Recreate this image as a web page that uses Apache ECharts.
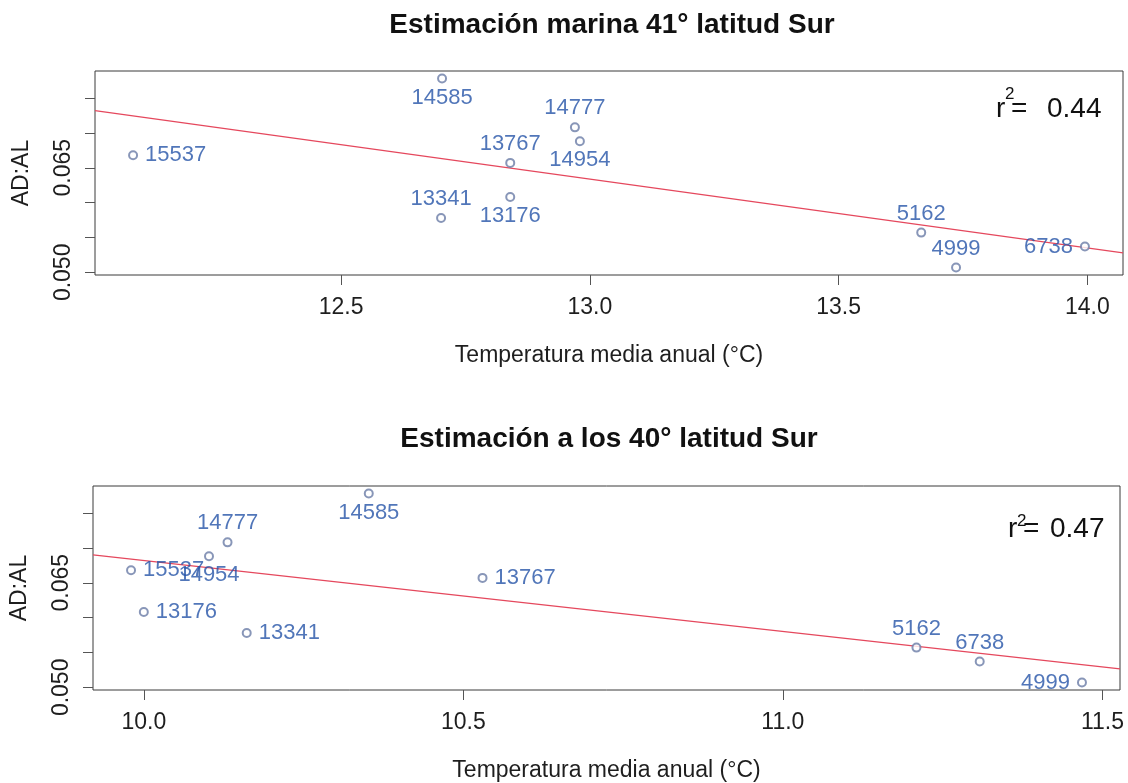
<!DOCTYPE html>
<html>
<head>
<meta charset="utf-8">
<script src="https://cdn.jsdelivr.net/npm/echarts@6/dist/echarts.min.js"></script>
<style>
  html, body { margin: 0; padding: 0; background: #ffffff; }
  #chart { width: 1128px; height: 783px; }
</style>
</head>
<body>
<div id="chart"></div>
<script>
// Stations and their AD:AL ratio (shared by both panels)
const stations = ['15537', '14585', '13767', '13341', '13176', '14777', '14954', '5162', '4999', '6738'];
const adAl = [0.0668, 0.0778, 0.0657, 0.0578, 0.0608, 0.0708, 0.0688, 0.0557, 0.0507, 0.0537];

// Mean annual temperature (°C) for each station, per estimate
const tempMarina41 = [12.082, 12.703, 12.840, 12.701, 12.840, 12.970, 12.980, 13.666, 13.736, 13.995];
const temp40 = [9.980, 10.352, 10.530, 10.161, 10.000, 10.131, 10.102, 11.209, 11.468, 11.308];

// Axis ticks and labels
const xTicksMarina41 = [12.5, 13.0, 13.5, 14.0];
const xTicks40 = [10.0, 10.5, 11.0, 11.5];
const yTicks = [0.050, 0.055, 0.060, 0.065, 0.070, 0.075];
const yTickLabels = [0.050, 0.065];

// Texts
const titles = ['Estimación marina 41° latitud Sur', 'Estimación a los 40° latitud Sur'];
const r2Values = ['0.44', '0.47'];
const xName = 'Temperatura media anual (°C)';
const yName = 'AD:AL';

// Side of each station label relative to its point
const labelSidesMarina41 = ['right', 'bottom', 'top', 'top', 'bottom', 'top', 'bottom', 'top', 'top', 'left'];
const labelSides40 = ['right', 'bottom', 'right', 'right', 'right', 'top', 'bottom', 'top', 'left', 'top'];

const FONT = '"Liberation Sans", Arial, Helvetica, sans-serif';
const POINT_COLOR = '#6a7ca6';
const LABEL_COLOR = '#2654a8';
const FIT_COLOR = '#e5485d';
const TEXT_COLOR = '#1e1e1e';

// Axis extent padded by 4% on each side of the data range
function paddedExtent(vals) {
  const lo = Math.min(...vals), hi = Math.max(...vals);
  const pad = (hi - lo) * 0.04;
  return [lo - pad, hi + pad];
}

// Ordinary least squares fit y = a + b x
function leastSquares(xs, ys) {
  const n = xs.length;
  const mx = xs.reduce((s, v) => s + v, 0) / n;
  const my = ys.reduce((s, v) => s + v, 0) / n;
  let sxy = 0, sxx = 0;
  for (let i = 0; i < n; i++) {
    sxy += (xs[i] - mx) * (ys[i] - my);
    sxx += (xs[i] - mx) * (xs[i] - mx);
  }
  const slope = sxy / sxx;
  return { slope, intercept: my - slope * mx };
}

const yExtent = paddedExtent(adAl);

const grids = [
  { left: 95, top: 71, width: 1028, height: 204 },
  { left: 92, top: 486, width: 1028, height: 204 }
];

const panels = [
  { temps: tempMarina41, ticks: xTicksMarina41, sides: labelSidesMarina41 },
  { temps: temp40, ticks: xTicks40, sides: labelSides40 }
];

const xAxes = [], yAxes = [], series = [];

panels.forEach((p, k) => {
  const xExt = paddedExtent(p.temps);
  xAxes.push({
    type: 'value', gridIndex: k, min: xExt[0], max: xExt[1],
    name: xName, nameLocation: 'middle', nameGap: 69,
    nameTextStyle: { fontFamily: FONT, fontSize: 23, color: TEXT_COLOR },
    axisLine: { show: false },
    splitLine: { show: false },
    axisTick: { show: true, length: 10, customValues: p.ticks, lineStyle: { color: '#555', width: 1 } },
    axisLabel: {
      customValues: p.ticks, margin: 21,
      fontFamily: FONT, fontSize: 23, color: TEXT_COLOR,
      formatter: v => Number(v).toFixed(1)
    }
  });
  yAxes.push({
    type: 'value', gridIndex: k, min: yExtent[0], max: yExtent[1],
    name: yName, nameLocation: 'middle', nameGap: 62, nameRotate: 90,
    nameTextStyle: { fontFamily: FONT, fontSize: 23, color: TEXT_COLOR },
    axisLine: { show: false },
    splitLine: { show: false },
    axisTick: { show: true, length: 10, customValues: yTicks, lineStyle: { color: '#555', width: 1 } },
    axisLabel: {
      customValues: yTickLabels, rotate: 90, margin: 20,
      fontFamily: FONT, fontSize: 23, color: TEXT_COLOR,
      formatter: v => Number(v).toFixed(3)
    }
  });

  const pts = stations.map((name, i) => {
    const side = p.sides[i];
    const horizontal = side === 'left' || side === 'right';
    return {
      name: name,
      value: [p.temps[i], adAl[i]],
      label: { position: side, distance: horizontal ? 7 : 3 }
    };
  });

  series.push({
    type: 'scatter', xAxisIndex: k, yAxisIndex: k,
    symbol: 'emptyCircle', symbolSize: 8,
    itemStyle: { color: POINT_COLOR, borderWidth: 1 },
    label: {
      show: true, formatter: '{b}',
      fontFamily: FONT, fontSize: 22, color: LABEL_COLOR
    },
    data: pts, z: 3
  });

  const fit = leastSquares(p.temps, adAl);
  series.push({
    type: 'line', xAxisIndex: k, yAxisIndex: k,
    symbol: 'none', clip: true, silent: true,
    lineStyle: { color: FIT_COLOR, width: 1.2 },
    data: xExt.map(x => [x, fit.intercept + fit.slope * x]),
    z: 2
  });
});

// Titles and r² annotations
const graphics = [];
const titleY = [25, 439];
titles.forEach((t, k) => {
  graphics.push({
    type: 'text', x: grids[k].left + grids[k].width / 2 + 3, y: titleY[k],
    style: { text: t, fontFamily: FONT, fontSize: 28, fontWeight: 'bold', fill: '#111', align: 'center', verticalAlign: 'middle' }
  });
});

const r2Pos = [
  { rX: 996, supX: 1005, eqX: 1011, numX: 1047, y: 109, supY: 94 },
  { rX: 1008, supX: 1017, eqX: 1023, numX: 1050, y: 529, supY: 521 }
];
r2Values.forEach((v, k) => {
  const p = r2Pos[k];
  const base = { fontFamily: FONT, fill: '#111', align: 'left', verticalAlign: 'middle' };
  graphics.push({ type: 'text', x: p.rX, y: p.y, style: Object.assign({ text: 'r', fontSize: 28 }, base) });
  graphics.push({ type: 'text', x: p.supX, y: p.supY, style: Object.assign({ text: '2', fontSize: 17 }, base) });
  graphics.push({ type: 'text', x: p.eqX, y: p.y, style: Object.assign({ text: '=', fontSize: 28 }, base) });
  graphics.push({ type: 'text', x: p.numX, y: p.y, style: Object.assign({ text: v, fontSize: 28 }, base) });
});

const chart = echarts.init(document.getElementById('chart'), null, { renderer: 'canvas' });
chart.setOption({
  animation: false,
  backgroundColor: '#ffffff',
  grid: grids.map(g => Object.assign({ show: true, borderColor: '#3a3a3a', borderWidth: 1, backgroundColor: 'transparent' }, g)),
  xAxis: xAxes,
  yAxis: yAxes,
  series: series,
  graphic: graphics
});
</script>
</body>
</html>
